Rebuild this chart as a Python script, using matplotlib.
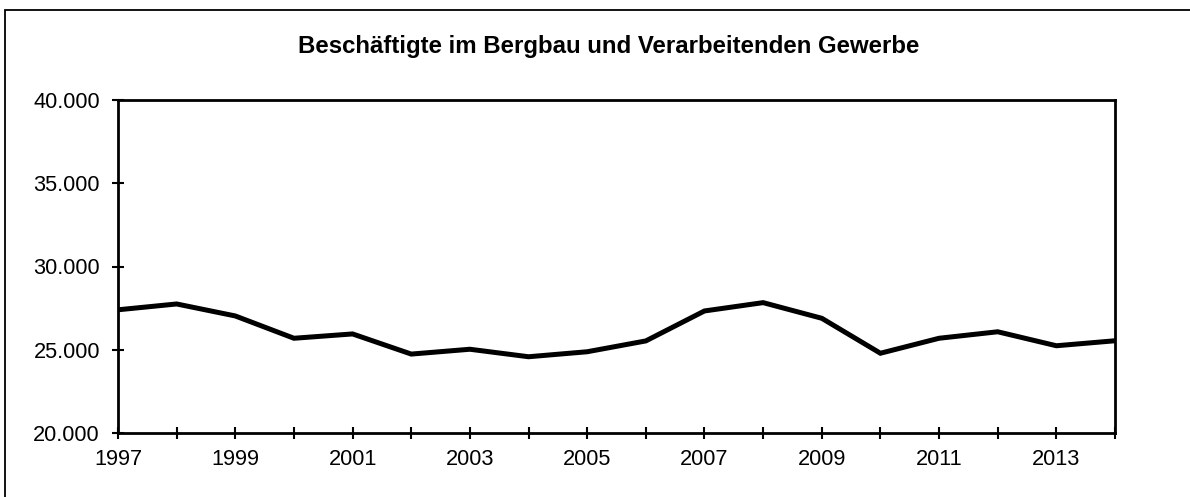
import matplotlib
matplotlib.use('Agg')
import matplotlib.pyplot as plt
from matplotlib.ticker import FuncFormatter
from matplotlib.patches import Rectangle

plt.rcParams['font.family'] = ['Liberation Sans', 'DejaVu Sans']

# Beschaeftigte je Jahr
years = list(range(1997, 2015))
employees = [27400, 27750, 27030, 25690, 25950, 24740, 25030, 24580, 24880,
             25530, 27330, 27830, 26890, 24790, 25690, 26080, 25240, 25540]
yticks = [20000, 25000, 30000, 35000, 40000]
title = 'Beschäftigte im Bergbau und Verarbeitenden Gewerbe'

fig = plt.figure(figsize=(11.9, 4.97), dpi=100)
ax = fig.add_axes([118/1190, 1-433/497, (1115-118)/1190, (433-100)/497])

ax.plot(years, employees, color='k', lw=3.6, solid_joinstyle='miter')

ax.set_xlim(1997, 2014)
ax.set_ylim(20000, 40000)
ax.set_xticks(years)
ax.set_xticklabels([str(y) if (y - 1997) % 2 == 0 else '' for y in years])
ax.set_yticks(yticks)
ax.yaxis.set_major_formatter(FuncFormatter(lambda v, pos: '{:,.0f}'.format(v).replace(',', '.')))

for s in ax.spines.values():
    s.set_linewidth(2)
ax.tick_params(axis='both', direction='inout', length=9, width=1.5, labelsize=15.7)
ax.tick_params(axis='y', pad=8.5)
ax.tick_params(axis='x', pad=7)

fig.text(608.5/1190, 1-47/497, title, ha='center', va='center', fontsize=17.3, fontweight='bold')

# outer frame
fig.patches.append(Rectangle((5/1190, -0.05), 1.2, 1-10/497+0.05, transform=fig.transFigure,
                             fill=False, edgecolor='k', lw=1.3))

fig.savefig('out.png', dpi=100)
